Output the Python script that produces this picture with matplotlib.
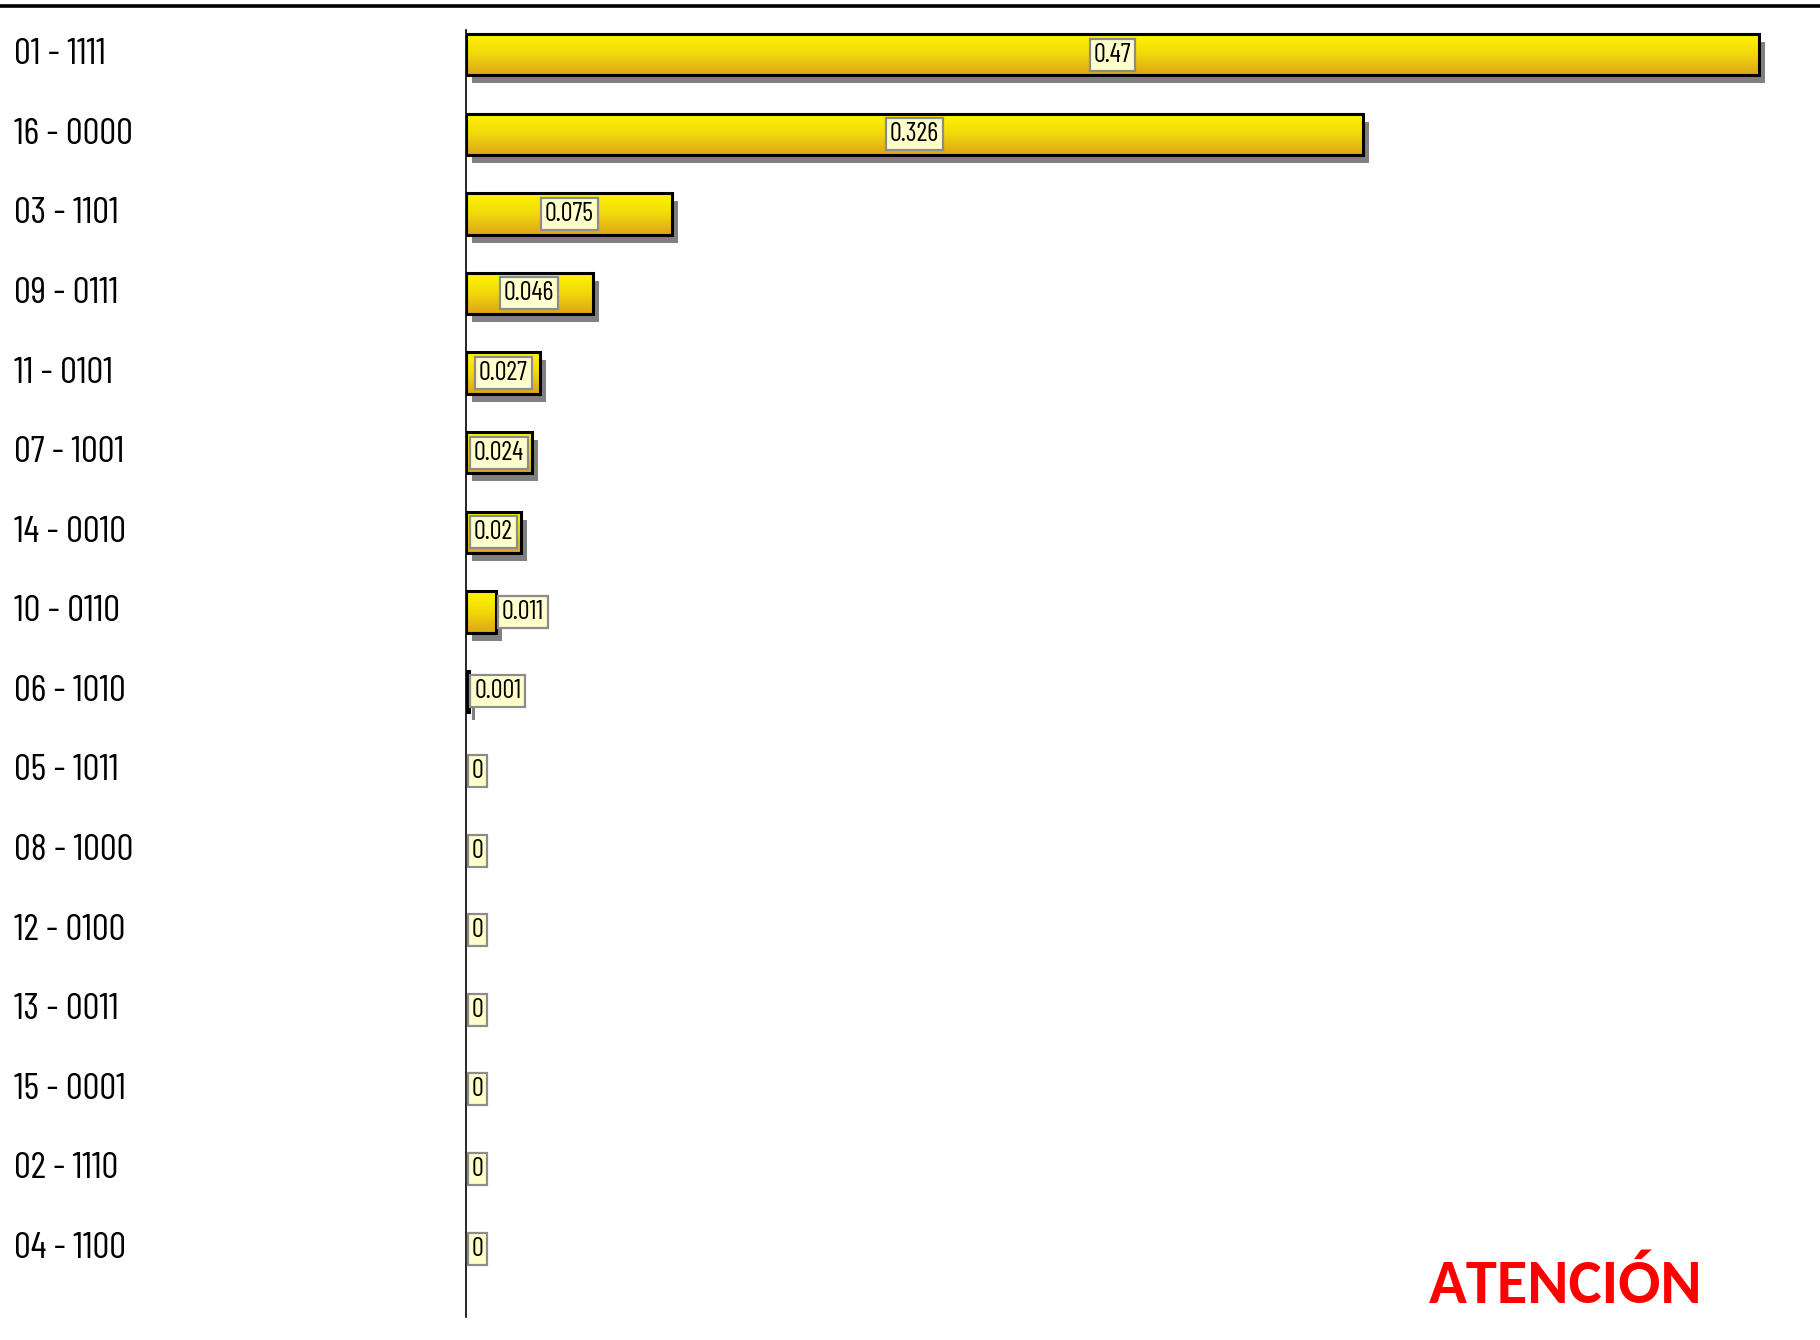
import matplotlib
matplotlib.use("Agg")
import matplotlib.pyplot as plt
import numpy as np
from matplotlib.colors import LinearSegmentedColormap
from matplotlib.transforms import ScaledTranslation, blended_transform_factory
from matplotlib.lines import Line2D

# Data (top to bottom)
categories = ["01 - 1111", "16 - 0000", "03 - 1101", "09 - 0111", "11 - 0101",
              "07 - 1001", "14 - 0010", "10 - 0110", "06 - 1010", "05 - 1011",
              "08 - 1000", "12 - 0100", "13 - 0011", "15 - 0001", "02 - 1110",
              "04 - 1100"]
values = [0.47, 0.326, 0.075, 0.046, 0.027, 0.024, 0.02, 0.011, 0.001,
          0, 0, 0, 0, 0, 0, 0]
value_labels = ["0.47", "0.326", "0.075", "0.046", "0.027", "0.024", "0.02",
                "0.011", "0.001", "0", "0", "0", "0", "0", "0", "0"]

# narrow font, with fallbacks
narrow = ["Barlow Condensed", "Sofia Sans Extra Condensed", "PT Sans Narrow",
          "DejaVu Sans"]

W, H, DPI = 1820, 1340, 100
fig = plt.figure(figsize=(W / DPI, H / DPI), dpi=DPI)

# axes placed in pixel terms
left_px, right_px, top_px, bot_px = 466, 1800, 30, 1317
ax = fig.add_axes([left_px / W, 1 - bot_px / H,
                   (right_px - left_px) / W, (bot_px - top_px) / H])

bar_h = 0.52
y = np.arange(len(categories))
xmax = max(values) * (right_px - left_px) / (1759 - left_px)

# shadow bars, offset a few pixels right/down
shadow_tr = ax.transData + ScaledTranslation(6 / DPI, -8 / DPI, fig.dpi_scale_trans)
grad_cmap = LinearSegmentedColormap.from_list("gold", ["#FFF700", "#F2D80C", "#DCA417"])
grad = np.linspace(0, 1, 256).reshape(-1, 1)

for yi, v in zip(y, values):
    if v <= 0:
        continue
    ax.barh(yi, v, height=bar_h, color="#808080", transform=shadow_tr,
            zorder=1, clip_on=False)
    ax.imshow(grad, cmap=grad_cmap, aspect="auto", origin="upper",
              extent=[0, v, yi + bar_h / 2, yi - bar_h / 2], zorder=2)
    ax.barh(yi, v, height=bar_h, color="none", edgecolor="black",
            linewidth=2.2, zorder=3)

ax.set_xlim(0, xmax)
ax.set_ylim(len(categories) - 1 + 0.86, -0.31)

# value labels: centred in the bar if it fits, else just to the right
px_per_unit = (right_px - left_px) / xmax
box = dict(boxstyle="square,pad=0.15", fc="#FFFFCC", ec="#8C8C8C", lw=1.6)
for yi, v, lab in zip(y, values, value_labels):
    if v * px_per_unit > 52:
        ax.text(v / 2, yi, lab, ha="center", va="center", fontsize=19,
                family=narrow, bbox=box, zorder=5)
    else:
        ax.annotate(lab, xy=(v, yi), xytext=(4, 0), textcoords="offset points",
                    ha="left", va="center", fontsize=19, family=narrow,
                    bbox=box, zorder=5, annotation_clip=False)

# category labels at left edge of figure
lab_tr = blended_transform_factory(fig.transFigure, ax.transData)
for yi, c in zip(y, categories):
    ax.text(14 / W, yi, c, transform=lab_tr, ha="left", va="center",
            fontsize=27, family=narrow, clip_on=False)

ax.set_xticks([])
ax.set_yticks([])
for s in ["top", "right", "bottom"]:
    ax.spines[s].set_visible(False)
ax.spines["left"].set_linewidth(1.2)
ax.spines["left"].set_zorder(4)
ax.patch.set_alpha(0)

# thick rule across the top
fig.add_artist(Line2D([0, 1], [1 - 6 / H, 1 - 6 / H], color="black",
                      linewidth=2.6, transform=fig.transFigure))

fig.text(1566 / W, 1 - 1286 / H, "ATENCIÓN", color="#FF0000", fontsize=45,
         fontweight="bold", family=["Carlito", "Open Sans", "DejaVu Sans"],
         ha="center", va="center")

fig.savefig("out.png", dpi=DPI)
